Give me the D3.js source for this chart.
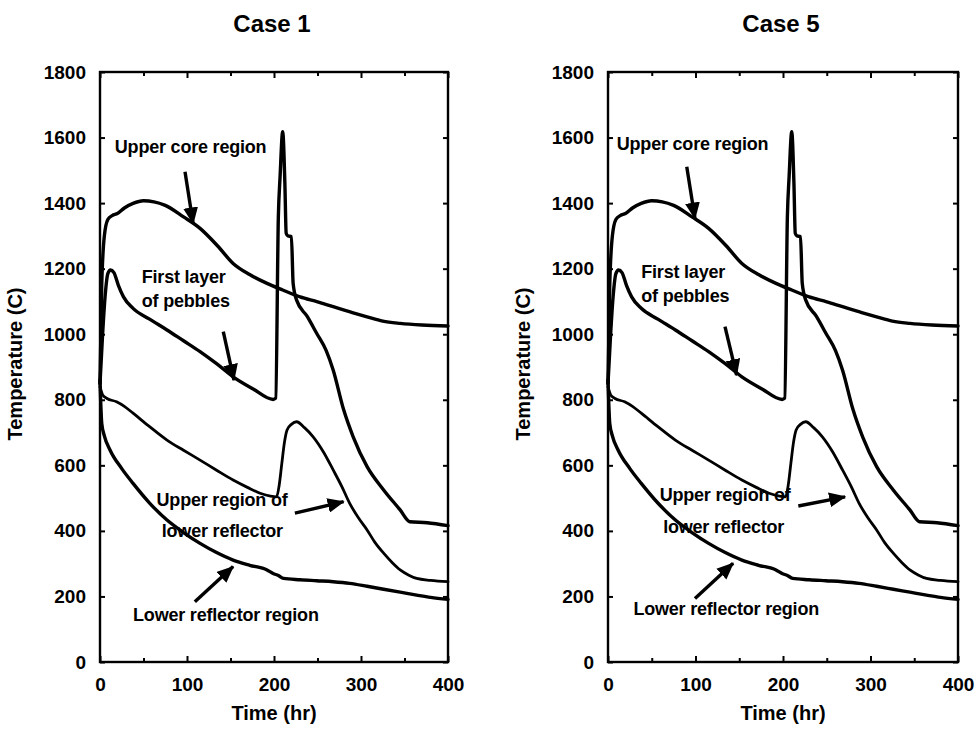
<!DOCTYPE html>
<html><head><meta charset="utf-8">
<script src="https://cdn.jsdelivr.net/npm/d3@7"></script>
<style>
html,body{margin:0;padding:0;background:#fff;}
svg text{font-family:"Liberation Sans",Arial,sans-serif;font-weight:bold;fill:#000;}
</style></head>
<body>
<svg id="chart" width="978" height="731"></svg>
<script>
// ---- data (time in hr, temperature in C) ----
const panelTitles = ["Case 1", "Case 5"];
const xTicks = [0, 100, 200, 300, 400];
const yTicks = [0, 200, 400, 600, 800, 1000, 1200, 1400, 1600, 1800];
const xLabel = "Time (hr)";
const yLabel = "Temperature (C)";

const upperCore = [[0,850],[2,1150],[5,1300],[9,1350],[14,1362],[20,1368],[28,1385],[38,1399],[50,1407],[62,1404],[75,1393],[96,1358],[115,1323],[135,1270],[153,1216],[172,1182],[192,1155],[210,1135],[230,1114],[250,1099],[268,1084],[290,1066],[307,1053],[325,1040],[345,1033],[370,1028],[400,1025]];
const pebbles = [[0,850],[3,1000],[6,1120],[9,1185],[12,1196],[16,1188],[21,1150],[27,1114],[38,1079],[57,1046],[77,1013],[96,980],[115,947],[134,910],[153,870],[176,833],[199,801],[202,805],[205,1358],[207,1481],[210,1618],[212.5,1460],[214,1308],[216,1300],[220,1298],[222,1155],[226,1104],[238,1055],[249,1003],[260,950],[268,891],[280,770],[291,687],[307,596],[326,525],[345,464],[356,428],[376,425],[400,416]];
const upperLowerRefl = [[0,840],[3,815],[8,804],[19,794],[28,780],[38,759],[57,718],[77,677],[96,646],[115,616],[134,585],[153,555],[170,532],[184,515],[196,506],[203,504],[206,540],[209,606],[212,670],[215,708],[220,725],[226,733],[235,715],[245,687],[257,640],[268,586],[278,535],[287,484],[297,440],[307,403],[316,365],[326,332],[336,303],[345,281],[355,265],[364,255],[380,249],[400,245]];
const lowerRefl = [[0,860],[1,780],[2,728],[5,690],[11.5,647],[25,590],[38,545],[57,485],[77,433],[96,395],[115,362],[134,334],[153,311],[172,295],[192,281],[199,270],[205,264],[211,255],[230,251],[249,248],[268,245],[287,240],[307,231],[326,222],[345,213],[364,204],[380,197],[400,191]];
const seriesList = [upperCore, pebbles, upperLowerRefl, lowerRefl];
const seriesWidths = [3.4, 3.4, 2.8, 3.4];

// annotations per panel: [text, t, T]
const labelsCase1 = [["Upper core region",17,1553],["First layer",48,1156],["of pebbles",48,1083],["Upper region of",65,476],["lower reflector",71,381],["Lower reflector region",38,125]];
const labelsCase5 = [["Upper core region",10,1562],["First layer",38,1171],["of pebbles",38,1098],["Upper region of",59,491],["lower reflector",63,394],["Lower reflector region",29,143]];
// arrows per panel: [t1,T1,t2,T2]
const arrowsCase1 = [[97.7,1496,107,1338],[141.7,1008,154,860],[224,454,280,489],[109,184,153,291]];
const arrowsCase5 = [[90,1511,99.4,1353],[133.7,1023,147,875],[217.5,476,271,504],[99.4,194,143,301]];

const panels = [
  {title: panelTitles[0], x0: 100, x1: 448, labels: labelsCase1, arrows: arrowsCase1},
  {title: panelTitles[1], x0: 608, x1: 958, labels: labelsCase5, arrows: arrowsCase5}
];

const svg = d3.select("#chart");
const yTop = 72, yBottom = 662;

const defs = svg.append("defs");
defs.append("marker").attr("id","ah").attr("markerUnits","userSpaceOnUse")
  .attr("viewBox","0 0 16 14").attr("refX",15).attr("refY",7)
  .attr("markerWidth",17).attr("markerHeight",15).attr("orient","auto")
  .append("path").attr("d","M0,0 L16,7 L0,14 Z").attr("fill","#000");

panels.forEach(p => {
  const x = d3.scaleLinear().domain([0,400]).range([p.x0,p.x1]);
  const y = d3.scaleLinear().domain([0,1800]).range([yBottom,yTop]);
  const g = svg.append("g");

  // series lines
  const line = d3.line().x(d=>x(d[0])).y(d=>y(d[1])).curve(d3.curveMonotoneX);
  seriesList.forEach((s,i) => {
    g.append("path").attr("d", line(s)).attr("fill","none")
      .attr("stroke","#000").attr("stroke-width", seriesWidths[i])
      .attr("stroke-linejoin","round").attr("stroke-linecap","round");
  });

  // frame
  g.append("rect").attr("x",p.x0).attr("y",yTop).attr("width",p.x1-p.x0).attr("height",yBottom-yTop)
    .attr("fill","none").attr("stroke","#000").attr("stroke-width",2.4);

  // axes (inward ticks)
  const fmt = d3.format("d");
  const xa = g.append("g").attr("transform",`translate(0,${yBottom})`)
    .call(d3.axisBottom(x).tickValues(xTicks).tickFormat(fmt).tickSizeInner(-6).tickSizeOuter(0).tickPadding(16));
  const xat = g.append("g").attr("transform",`translate(0,${yTop})`)
    .call(d3.axisTop(x).tickValues(xTicks).tickSizeInner(-6).tickSizeOuter(0).tickFormat(""));
  const xmb = g.append("g").attr("transform",`translate(0,${yBottom})`)
    .call(d3.axisBottom(x).tickValues([50,150,250,350]).tickSizeInner(-4).tickSizeOuter(0).tickFormat(""));
  const xmt = g.append("g").attr("transform",`translate(0,${yTop})`)
    .call(d3.axisTop(x).tickValues([50,150,250,350]).tickSizeInner(-4).tickSizeOuter(0).tickFormat(""));
  const ya = g.append("g").attr("transform",`translate(${p.x0},0)`)
    .call(d3.axisLeft(y).tickValues(yTicks).tickFormat(fmt).tickSizeInner(-5).tickSizeOuter(0).tickPadding(14));
  const yr = g.append("g").attr("transform",`translate(${p.x1},0)`)
    .call(d3.axisRight(y).tickValues(yTicks).tickSizeInner(-5).tickSizeOuter(0).tickFormat(""));
  [xa,xat,xmb,xmt,ya,yr].forEach(a => {
    a.attr("font-family",null).attr("font-size",null);
    a.select(".domain").remove();
    a.selectAll("line").attr("stroke","#000").attr("stroke-width",2);
  });
  xa.selectAll("text").attr("font-size",19);
  ya.selectAll("text").attr("font-size",19);

  // titles and axis labels
  const cx = (p.x0+p.x1)/2;
  g.append("text").attr("x",cx-2).attr("y",32).attr("text-anchor","middle").attr("font-size",24).text(p.title);
  g.append("text").attr("x",cx).attr("y",720).attr("text-anchor","middle").attr("font-size",20).text(xLabel);
  g.append("text").attr("transform",`translate(${p.x0-78},364) rotate(-90)`).attr("text-anchor","middle")
    .attr("font-size",20).text(yLabel);

  // annotations
  p.labels.forEach(l => {
    g.append("text").attr("x",x(l[1])).attr("y",y(l[2])).attr("font-size",18)
      .attr("letter-spacing","-0.2px").text(l[0]);
  });
  p.arrows.forEach(a => {
    g.append("line").attr("x1",x(a[0])).attr("y1",y(a[1])).attr("x2",x(a[2])).attr("y2",y(a[3]))
      .attr("stroke","#000").attr("stroke-width",3.4).attr("marker-end","url(#ah)");
  });
});
</script>
</body></html>
